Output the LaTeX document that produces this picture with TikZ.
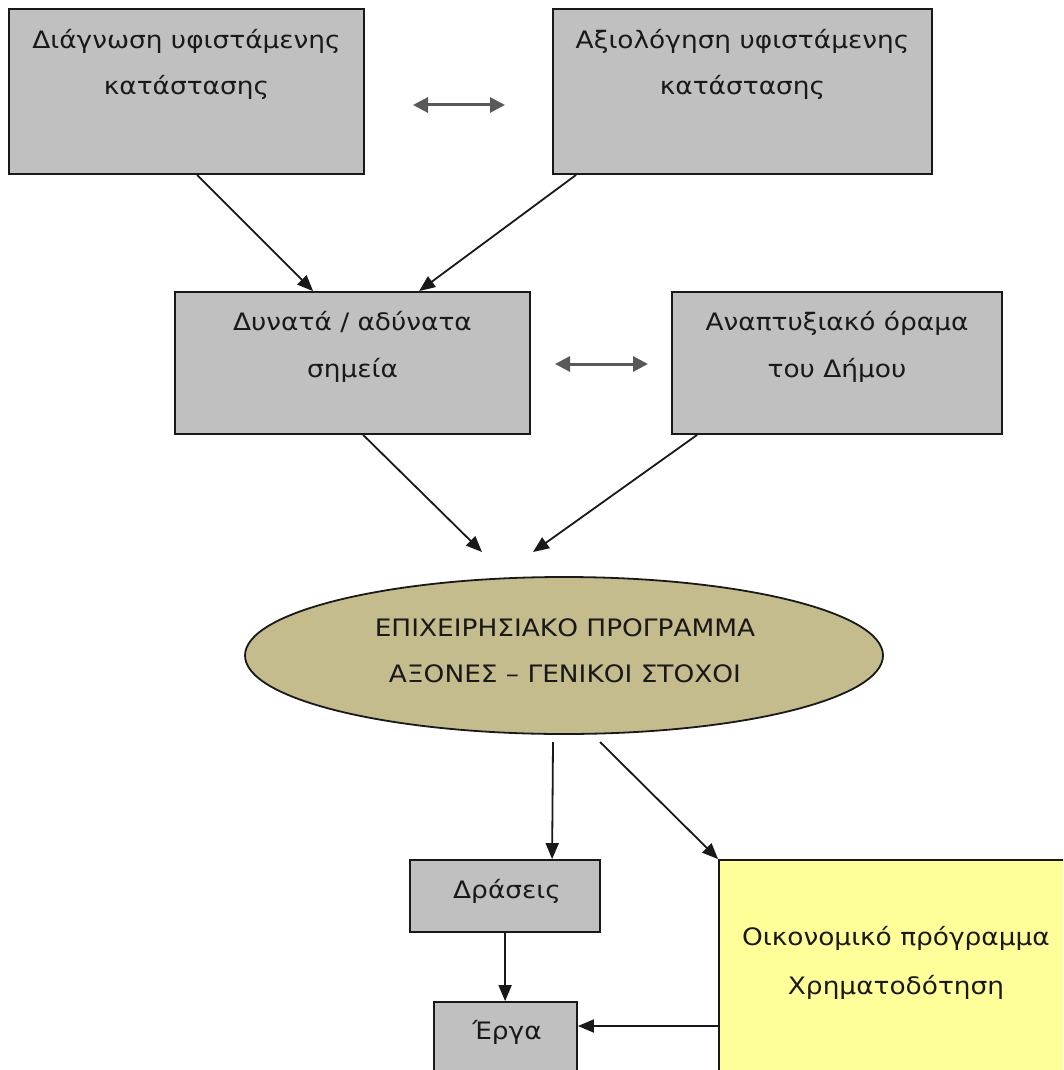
\documentclass[tikz,border=0pt]{standalone}
\usepackage{fontspec}
\setmainfont{DejaVu Sans}[FakeStretch=1.1]
\usetikzlibrary{arrows.meta,shapes.geometric}
\definecolor{boxgray}{RGB}{192,192,192}
\definecolor{olive}{RGB}{196,188,140}
\definecolor{paleyellow}{RGB}{255,255,153}
\definecolor{linecol}{RGB}{25,25,25}
\tikzset{
  gbox/.style={draw=linecol, line width=1.8pt, fill=boxgray, rectangle, inner sep=0pt},
  ybox/.style={draw=linecol, line width=1.8pt, fill=paleyellow, rectangle, inner sep=0pt},
  oval/.style={draw=linecol, line width=1.8pt, fill=olive, ellipse, inner sep=0pt},
  txt/.style={anchor=base, inner sep=0pt, text=black!90, font=\fontsize{24}{28}\selectfont},
  arr/.style={draw=linecol, line width=1.8pt, -{Triangle[length=16pt,width=13pt]}},
  dbl/.style={draw=black!65, line width=3pt, {Triangle[length=15pt,width=15pt]}-{Triangle[length=15pt,width=15pt]}}
}
\begin{document}
\begin{tikzpicture}[x=1pt,y=-1pt]
\useasboundingbox (0,0) rectangle (1063,1070);
\clip (0,0) rectangle (1063,1070);
\fill[white] (0,0) rectangle (1063,1070);
% boxes
\node[gbox, minimum width=355pt, minimum height=165pt] (b1) at (186.5,91.5) {};
\node[gbox, minimum width=379pt, minimum height=165pt] (b2) at (742.5,91.5) {};
\node[gbox, minimum width=355pt, minimum height=142pt] (b3) at (352.5,363) {};
\node[gbox, minimum width=330pt, minimum height=142pt] (b4) at (837,363) {};
\node[oval, minimum width=638pt, minimum height=157pt] (e) at (564,655.5) {};
\node[gbox, minimum width=190pt, minimum height=72pt] (d) at (505,896) {};
\node[gbox, minimum width=143pt, minimum height=140pt] (g) at (505.5,1072) {};
\node[ybox, minimum width=354pt, minimum height=300pt] (y) at (896,1010) {};
% texts
\node[txt] (t1a) at (186.5,49) {Διάγνωση υφιστάμενης};
\node[txt] (t1b) at (186.5,95) {κατάστασης};
\node[txt] (t2a) at (742.5,49) {Αξιολόγηση υφιστάμενης};
\node[txt] (t2b) at (742.5,95) {κατάστασης};
\node[txt] (t3a) at (352.5,330) {Δυνατά / αδύνατα};
\node[txt] (t3b) at (352.5,377) {σημεία};
\node[txt] (t4a) at (837,330) {Αναπτυξιακό όραμα};
\node[txt] (t4b) at (837,377) {του Δήμου};
\node[txt] (tea) at (565,636) {ΕΠΙΧΕΙΡΗΣΙΑΚΟ ΠΡΟΓΡΑΜΜΑ};
\node[txt] (teb) at (565,682) {ΑΞΟΝΕΣ – ΓΕΝΙΚΟΙ ΣΤΟΧΟΙ};
\node[txt] (td) at (507,898) {Δράσεις};
\node[txt] (tg) at (507,1039) {Έργα};
\node[txt] (tya) at (896,945) {Οικονομικό πρόγραμμα};
\node[txt] (tyb) at (896,994) {Χρηματοδότηση};
% free ends
\coordinate (da1) at (413,105);
\coordinate (da2) at (505,105);
\coordinate (db1) at (555,364);
\coordinate (db2) at (648,364);
\coordinate (p1) at (482,552);
\coordinate (p2) at (533,552);
\coordinate (q1) at (553,742);
\coordinate (q2) at (600,742);
% connectors
\draw[dbl] (da1) -- (da2);
\draw[dbl] (db1) -- (db2);
\draw[arr] ([xshift=189pt]b1.south west) -- ([xshift=139pt]b3.north west);
\draw[arr] ([xshift=24pt]b2.south west) -- ([xshift=245pt]b3.north west);
\draw[arr] ([xshift=189pt]b3.south west) -- (p1);
\draw[arr] ([xshift=26pt]b4.south west) -- (p2);
\draw[arr] (q1) -- ([xshift=143pt]d.north west);
\draw[arr] (q2) -- (y.north west);
\draw[arr] ([xshift=96pt]d.south west) -- ([xshift=72pt]g.north west);
\draw[arr] (y.west |- 0,1026) -- (g.east |- 0,1026);
\end{tikzpicture}
\end{document}
